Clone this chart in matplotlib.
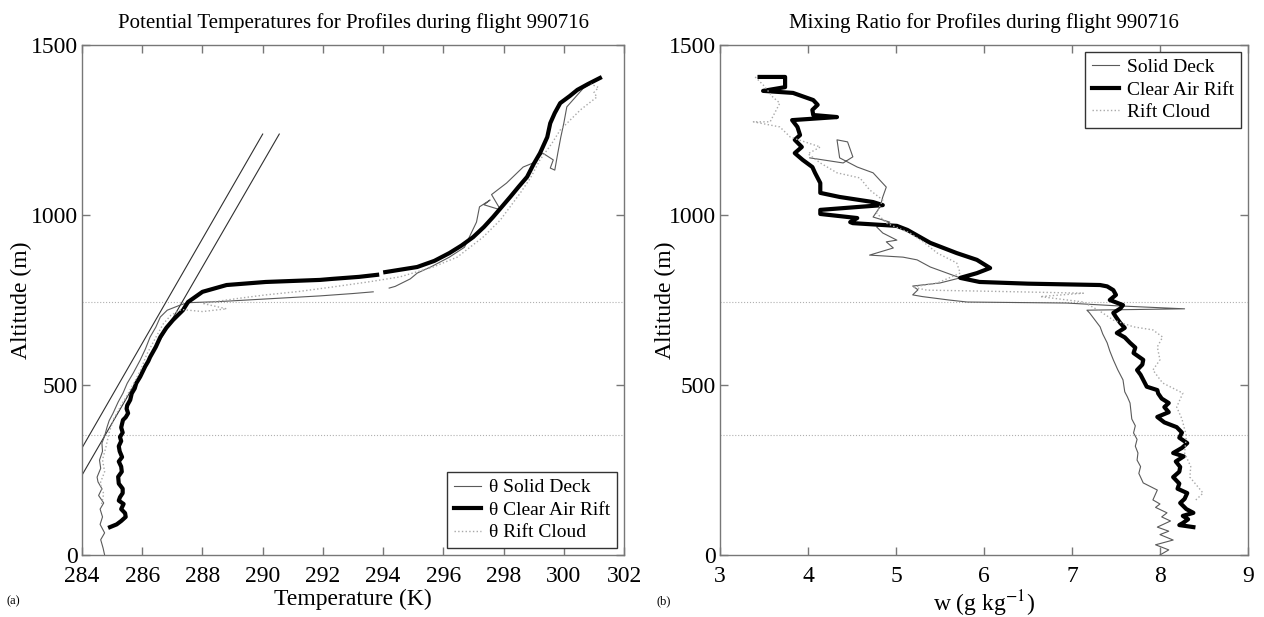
import numpy as np
import matplotlib
matplotlib.use("Agg")
import matplotlib.pyplot as plt

plt.rcParams["font.family"] = ["Liberation Serif", "DejaVu Serif"]
plt.rcParams["mathtext.fontset"] = "stix"

Nan = np.nan

# ---- potential temperature profiles (K, m) ----
Deck_Theta = [284.75, 284.7, 284.62, 284.75, 284.6, 284.68, 284.6, 284.72, 284.55, 284.66,
              284.53, 284.5, 284.62, 284.58, 284.68, 284.66, 284.75, 284.83, 284.9, 285.03,
              285.2, 285.36, 285.5, 285.7, 285.93, 286.1, 286.26, 286.45, 286.6, 286.83,
              287.26, 287.5, 288.5, 289.5, 290.5, 291.9, 293.0, 293.67, Nan, 294.2,
              294.4, 294.9, 295.13, 295.6, 296.2, 296.7, 297.1, 297.2, 297.55, 297.35,
              297.9, 297.6, 298.1, 298.65, 298.98, 299.3, 299.65, 299.55, 299.7, 299.8,
              299.9, 300.0, 300.1, 300.65, 301.1, 300.9]
Deck_Alt = [0, 20, 45, 65, 90, 112, 135, 153, 175, 195,
            215, 229, 255, 279, 305, 329, 350, 376, 395, 417,
            450, 476, 505, 535, 573, 605, 641, 670, 700, 720,
            735, 742, 745, 750, 755, 762, 769, 774, Nan, 785,
            790, 812, 829, 848, 876, 905, 979, 1024, 1044, 1030,
            1015, 1060, 1094, 1141, 1153, 1182, 1162, 1138, 1132, 1182,
            1229, 1270, 1318, 1373, 1397, 1390]

Rift_Theta = [284.93, 285.15, 285.3, 285.45, 285.43, 285.3, 285.38, 285.22, 285.26, 285.35,
              285.35, 285.22, 285.2, 285.32, 285.3, 285.22, 285.33, 285.25, 285.22, 285.3,
              285.26, 285.35, 285.3, 285.36, 285.45, 285.53, 285.48, 285.5, 285.6, 285.65,
              285.75, 285.8, 285.93, 286.1, 286.2, 286.26, 286.45, 286.6, 286.8, 287.02,
              287.35, 287.52, 288.0, 288.8, 290.1, 291.9, 292.3, 293.2, 293.8, Nan,
              294.07, 295.13, 295.7, 296.2, 296.6, 296.99, 297.35, 297.65, 297.95, 298.22,
              298.5, 298.78, 299.0, 299.21, 299.45, 299.55, 299.7, 299.88, 300.2, 300.45,
              300.8, 301.2]
Rift_Alt = [82, 90, 100, 112, 123, 135, 150, 160, 170, 182,
            195, 210, 230, 245, 260, 275, 288, 305, 320, 335,
            347, 360, 375, 397, 405, 417, 430, 440, 456, 475,
            490, 505, 524, 555, 570, 582, 612, 641, 668, 691,
            720, 744, 774, 794, 803, 809, 812, 818, 824, Nan,
            832, 847, 865, 888, 910, 935, 965, 994, 1025, 1053,
            1083, 1112, 1150, 1182, 1229, 1270, 1300, 1329, 1350, 1368,
            1385, 1403]

Cloud_Theta = [284.65, 284.72, 284.6, 284.75, 284.68, 284.8, 284.9, 285.05, 285.3, 285.5,
               285.75, 285.95, 286.15, 286.45, 286.7, 286.95, 287.3, 288.0, 288.8, 288.0,
               289.3, 290.1, 291.2, 292.3, 293.5, 294.56, 295.66, 296.46, 297.32, 297.89,
               298.55, 298.9, 299.2, 299.6, 299.88, 300.55, 301.1, 301.0, 301.15, 300.9]
Cloud_Alt = [150, 180, 210, 245, 280, 320, 360, 400, 440, 470,
             510, 545, 590, 640, 680, 705, 722, 716, 724, 740,
             756, 765, 775, 788, 803, 818, 847, 876, 935, 985,
             1064, 1110, 1161, 1210, 1250, 1309, 1347, 1360, 1375, 1385]

# two reference gradients drawn on the temperature panel
Ref_Theta_A = [284.0, 290.0]
Ref_Alt_A = [315, 1238]
Ref_Theta_B = [284.0, 290.55]
Ref_Alt_B = [235, 1238]

# ---- mixing ratio profiles (g/kg, m) ----
Deck_W = [8.0, 8.1, 7.95, 8.15, 8.0, 8.1, 7.97, 8.12, 8.02, 8.08,
          7.95, 8.0, 7.92, 7.97, 7.81, 7.76, 7.78, 7.74, 7.75, 7.72,
          7.74, 7.70, 7.72, 7.68, 7.66, 7.63, 7.6, 7.58, 7.52, 7.47,
          7.43, 7.40, 7.35, 7.32, 7.25, 7.20, 7.17, 8.28, 7.5, 6.94,
          5.81, 5.6, 5.3, 5.19, 5.25, 5.19, 5.5, 5.73, 5.39, 5.24,
          5.08, 4.70, 4.97, 4.89, 5.01, 4.85, 4.78, 4.93, 4.74, 4.82,
          4.85, 4.89, 4.74, 4.56, 4.36, 4.33, 4.45, 4.51, 4.40, 4.02]
Deck_Alt_W = [0, 15, 30, 44, 60, 70, 82, 100, 112, 124,
              140, 150, 162, 191, 212, 240, 260, 279, 300, 320,
              340, 359, 380, 400, 447, 465, 480, 515, 545, 574,
              600, 624, 650, 671, 695, 712, 720, 724, 733, 741,
              744, 750, 760, 765, 780, 791, 800, 815, 847, 868,
              876, 882, 903, 921, 926, 947, 965, 979, 994, 1024,
              1053, 1082, 1124, 1141, 1168, 1221, 1215, 1171, 1153, 1168]

Rift_W = [8.38, 8.22, 8.26, 8.32, 8.26, 8.38, 8.30, 8.23, 8.28, 8.31,
          8.20, 8.22, 8.15, 8.22, 8.23, 8.18, 8.27, 8.15, 8.25, 8.31,
          8.22, 8.25, 8.19, 8.05, 7.97, 8.10, 8.05, 8.10, 8.02, 7.98,
          7.97, 7.85, 7.81, 7.78, 7.74, 7.80, 7.81, 7.70, 7.72, 7.66,
          7.60, 7.51, 7.60, 7.55, 7.50, 7.47, 7.55, 7.58, 7.43, 7.50,
          7.47, 7.40, 7.32, 6.5, 5.95, 5.73, 5.92, 6.07, 5.92, 5.69,
          5.39, 5.13, 5.01, 4.51, 4.48, 4.56, 4.14, 4.14, 4.59, 4.85,
          4.74, 4.36, 4.14, 4.14, 4.08, 4.05, 3.94, 3.85, 3.93, 3.85,
          3.91, 3.88, 3.82, 4.33, 4.06, 4.05, 4.11, 4.06, 3.83, 3.49,
          3.74, 3.74, 3.45]
Rift_Alt_W = [82, 88, 94, 105, 115, 124, 135, 153, 165, 182,
              195, 210, 229, 245, 259, 275, 290, 300, 315, 329,
              345, 360, 376, 390, 406, 420, 435, 447, 460, 475,
              485, 495, 515, 530, 544, 560, 574, 594, 610, 624,
              640, 653, 668, 682, 700, 712, 725, 735, 750, 765,
              779, 790, 794, 798, 803, 815, 829, 844, 868, 888,
              918, 956, 968, 976, 979, 991, 1003, 1015, 1024, 1029,
              1038, 1053, 1065, 1094, 1124, 1141, 1162, 1182, 1200, 1221,
              1235, 1259, 1279, 1288, 1294, 1309, 1324, 1338, 1359, 1365,
              1376, 1406, 1406]

Cloud_W = [3.40, 3.5, 3.60, 3.68, 3.57, 3.38, 3.68, 3.80, 4.14, 4.0,
           4.14, 4.33, 4.59, 4.70, 4.85, 4.78, 4.89, 5.16, 5.31, 5.47,
           5.69, 5.73, 5.47, 5.19, 5.35, 6.2, 7.13, 6.64, 7.13, 7.3,
           7.47, 7.70, 7.92, 8.03, 7.97, 8.0, 7.92, 8.03, 8.26, 8.19,
           8.25, 8.3, 8.28, 8.35, 8.34, 8.49, 8.4]
Cloud_Alt_W = [1406, 1380, 1347, 1329, 1274, 1274, 1259, 1229, 1200, 1180,
               1153, 1124, 1109, 1074, 1044, 1006, 976, 947, 921, 888,
               859, 829, 800, 788, 779, 775, 770, 760, 744, 720,
               691, 671, 662, 641, 612, 574, 544, 506, 476, 435,
               400, 350, 300, 260, 229, 182, 160]

Level_Lines = [745, 352]

Deck_Style = dict(color="#5a5a5a", lw=0.8, ls="-")
Rift_Style = dict(color="black", lw=3.0, ls="-")
Cloud_Style = dict(color="#a8a8a8", lw=1.0, ls=":")


def Style_Axes(Ax):
    for Spine in Ax.spines.values():
        Spine.set_color("#777777")
        Spine.set_linewidth(1.0)
    Ax.tick_params(direction="in", top=True, right=True, length=6, width=1,
                   color="#777777", labelsize=17)
    Ax.tick_params(axis="x", pad=8)
    Ax.tick_params(axis="y", pad=3)
    for Level in Level_Lines:
        Ax.axhline(Level, color="#b0b0b0", lw=0.8, ls=":", zorder=1)


def Add_Legend(Ax, Loc):
    Ax.legend(loc=Loc, fontsize=14, frameon=True, fancybox=False,
              edgecolor="#333333", framealpha=1, handlelength=1.4,
              handletextpad=0.4, labelspacing=0.25, borderaxespad=0.35,
              borderpad=0.35)


Fig = plt.figure(figsize=(12.64, 6.17), dpi=100)

Ax1 = Fig.add_axes([0.0649, 0.1005, 0.4288, 0.8266])
Style_Axes(Ax1)
Ax1.plot(Ref_Theta_A, Ref_Alt_A, color="#303030", lw=0.8)
Ax1.plot(Ref_Theta_B, Ref_Alt_B, color="#303030", lw=0.8)
Ax1.plot(Deck_Theta, Deck_Alt, label="θ Solid Deck", **Deck_Style)
Ax1.plot(Rift_Theta, Rift_Alt, label="θ Clear Air Rift", **Rift_Style)
Ax1.plot(Cloud_Theta, Cloud_Alt, label="θ Rift Cloud", **Cloud_Style)
Ax1.set_xlim(284, 302)
Ax1.set_ylim(0, 1500)
Ax1.set_xticks(np.arange(284, 303, 2))
Ax1.set_yticks([0, 500, 1000, 1500])
Ax1.set_title("Potential Temperatures for Profiles during flight 990716", fontsize=15, pad=12)
Ax1.set_xlabel("Temperature (K)", fontsize=17, labelpad=1)
Ax1.set_ylabel("Altitude (m)", fontsize=17)
Ax1.yaxis.set_label_coords(-0.092, 0.5)
Add_Legend(Ax1, "lower right")

Ax2 = Fig.add_axes([0.5696, 0.1005, 0.4177, 0.8266])
Style_Axes(Ax2)
Ax2.plot(Deck_W, Deck_Alt_W, label="Solid Deck", **Deck_Style)
Ax2.plot(Rift_W, Rift_Alt_W, label="Clear Air Rift", **Rift_Style)
Ax2.plot(Cloud_W, Cloud_Alt_W, label="Rift Cloud", **Cloud_Style)
Ax2.set_xlim(3, 9)
Ax2.set_ylim(0, 1500)
Ax2.set_xticks(np.arange(3, 10, 1))
Ax2.set_yticks([0, 500, 1000, 1500])
Ax2.set_title("Mixing Ratio for Profiles during flight 990716", fontsize=15, pad=12)
Ax2.set_xlabel(r"w (g kg$^{-1}$)", fontsize=17, labelpad=1)
Ax2.set_ylabel("Altitude (m)", fontsize=17)
Ax2.yaxis.set_label_coords(-0.083, 0.5)
Add_Legend(Ax2, "upper right")

Fig.text(0.005, 0.02, "(a)", fontsize=9)
Fig.text(0.519, 0.02, "(b)", fontsize=9)

Fig.savefig("out.png", dpi=100, facecolor="white")
